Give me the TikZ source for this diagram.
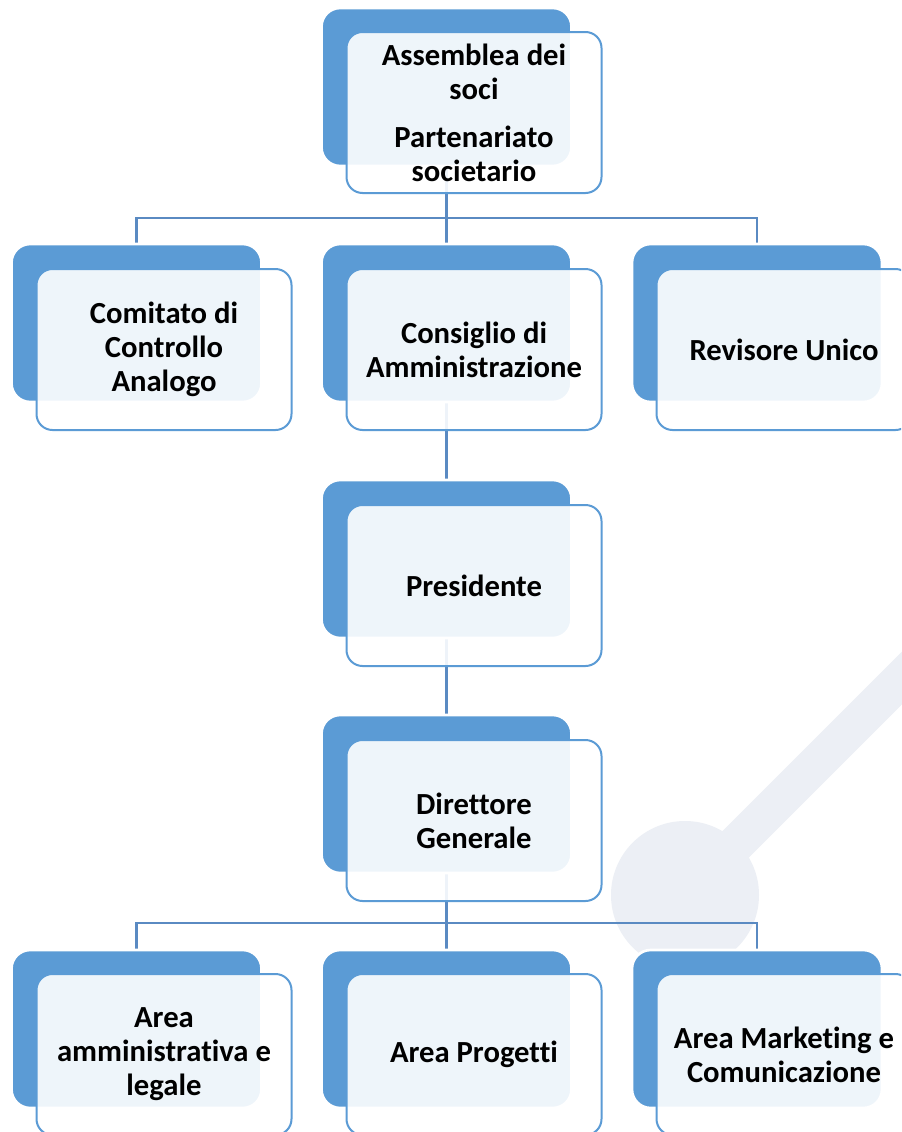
\documentclass[tikz,border=0pt]{standalone}
\usepackage{fontspec}
\setmainfont{Carlito}[Ligatures={NoCommon}]
\definecolor{boxblue}{HTML}{5B9BD5}
\definecolor{linkblue}{HTML}{5A8AC2}
\definecolor{wmgrey}{HTML}{ECEFF5}
\pgfdeclarelayer{wm}
\pgfdeclarelayer{links}
\pgfsetlayers{wm,links,main}
\begin{document}
\begin{tikzpicture}[x=0.75pt,y=-0.75pt,
  backbox/.style={rectangle, rounded corners=14pt, fill=boxblue, draw=white, line width=2pt,
    minimum width=187.5pt, minimum height=118.5pt, inner sep=0pt},
  frontbox/.style={rectangle, rounded corners=12pt, fill=white, fill opacity=0.9, text opacity=1,
    draw=boxblue, draw opacity=1, line width=1.5pt, minimum width=191.25pt, minimum height=120.75pt,
    inner sep=0pt, align=center, font=\fontsize{23pt}{25.5pt}\selectfont\bfseries},
  link/.style={draw=linkblue, line width=1.6pt}]
\useasboundingbox (0,0) rectangle (901,1132);
\clip (0,0) rectangle (901,1132);
\begin{pgfonlayer}{wm}
\fill[white] (0,0) rectangle (901,1132);
\fill[wmgrey] (685,895) circle [radius=55.5pt];
\draw[wmgrey, line width=28pt] (685,895) -- (985,595);
\end{pgfonlayer}
% back boxes
\node[backbox] (b1)  at (446.5,87) {};
\node[backbox] (b21) at (136.5,323) {};
\node[backbox] (b22) at (446.5,323) {};
\node[backbox] (b23) at (757,323) {};
\node[backbox] (b3)  at (446.5,559) {};
\node[backbox] (b4)  at (446.5,794) {};
\node[backbox] (b51) at (136.5,1029) {};
\node[backbox] (b52) at (446.5,1029) {};
\node[backbox] (b53) at (757,1029) {};
% front boxes
\node[frontbox] (f1)  at (474,112.5) {Assemblea dei\\soci\\[10.5pt]Partenariato\\societario};
\node[frontbox] (f21) at (164,349.5) {Comitato di\\Controllo\\Analogo};
\node[frontbox] (f22) at (474,349.5) {Consiglio di\\Amministrazione};
\node[frontbox] (f23) at (784,349.5) {Revisore Unico};
\node[frontbox] (f3)  at (474,585.5) {Presidente};
\node[frontbox] (f4)  at (474,820.5) {Direttore\\Generale};
\node[frontbox] (f51) at (164,1054.5) {Area\\amministrativa e\\legale};
\node[frontbox] (f52) at (474,1054.5) {Area Progetti};
\node[frontbox] (f53) at (784,1054.5) {Area Marketing e\\Comunicazione};
% connectors (behind boxes)
\coordinate (j1) at (446.5,218);
\coordinate (j2) at (446.5,923);
\begin{pgfonlayer}{links}
\draw[link] (b1.center) -- (j1);
\draw[link] (b21.north) -- (b21.north |- j1) -- (b23.north |- j1) -- (b23.north);
\draw[link] (j1) -- (b22.north);
\draw[link] (b22.center) -- (b3.center);
\draw[link] (b3.center) -- (b4.center);
\draw[link] (b4.center) -- (j2);
\draw[link] (b51.north) -- (b51.north |- j2) -- (b53.north |- j2) -- (b53.north);
\draw[link] (j2) -- (b52.north);
\end{pgfonlayer}
\end{tikzpicture}
\end{document}
